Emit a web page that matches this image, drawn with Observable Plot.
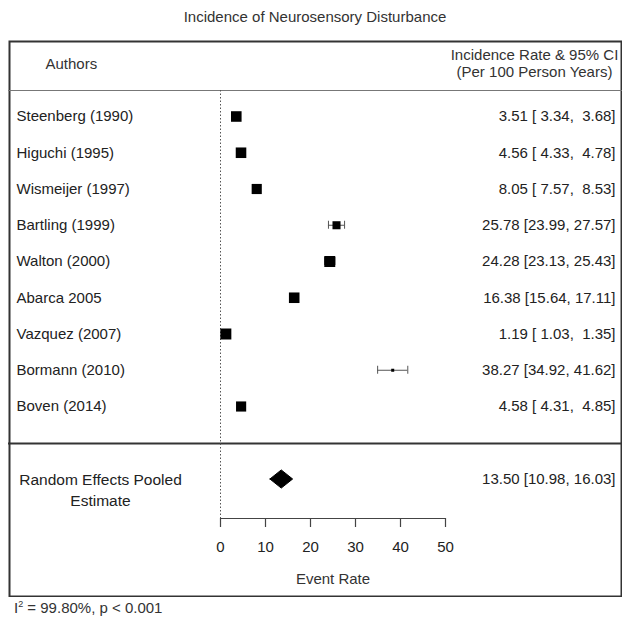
<!DOCTYPE html>
<html>
<head>
<meta charset="utf-8">
<script src="https://cdn.jsdelivr.net/npm/d3@7"></script>
<script src="https://cdn.jsdelivr.net/npm/@observablehq/plot@0.6"></script>
<style>
  body { margin: 0; background: white; font-family: "Liberation Sans", Arial, sans-serif; color: #333; }
  #title { position: absolute; left: 8px; width: 614px; top: 8px; text-align: center; font-size: 15px; line-height: 18px; }
  #chart { position: absolute; left: 8px; top: 40px; }
  #foot { position: absolute; left: 14px; top: 599px; font-size: 15px; line-height: 18px; }
  #foot sup { font-size: 9px; vertical-align: 6px; line-height: 0; }
  svg text { white-space: pre; }
</style>
</head>
<body>
<div id="title">Incidence of Neurosensory Disturbance</div>
<div id="chart"></div>
<div id="foot">I<sup>2</sup> = 99.80%, p &lt; 0.001</div>
<script>
// ---- data ----
const authors = ["Steenberg (1990)", "Higuchi (1995)", "Wismeijer (1997)", "Bartling (1999)", "Walton (2000)", "Abarca 2005", "Vazquez (2007)", "Bormann (2010)", "Boven (2014)"];
const estimates = [3.51, 4.56, 8.05, 25.78, 24.28, 16.38, 1.19, 38.27, 4.58];
const lower = [3.34, 4.33, 7.57, 23.99, 23.13, 15.64, 1.03, 34.92, 4.31];
const upper = [3.68, 4.78, 8.53, 27.57, 25.43, 17.11, 1.35, 41.62, 4.85];
const weights = [11.3, 11.3, 11.2, 10.7, 11.4, 11.3, 11.4, 9.5, 11.2];
const pooledLabel = "Random Effects Pooled\nEstimate";
const pooledEst = 13.50, pooledLo = 10.98, pooledHi = 16.03;
const xTicks = [0, 10, 20, 30, 40, 50];
const headerLeft = "Authors";
const headerRight = "Incidence Rate & 95% CI\n(Per 100 Person Years)";
const xLabel = "Event Rate";

// ---- build ----
const pad = v => v.toFixed(2).padStart(5, " ");
const ciText = (e, l, h) => `${e.toFixed(2)} [${pad(l)}, ${pad(h)}]`;
const studies = authors.map((a, i) => ({author: a, est: estimates[i], lo: lower[i], hi: upper[i], weight: weights[i], row: i, text: ciText(estimates[i], lower[i], upper[i])}));
const pooledRow = studies.length + 1;
const pooled = [{label: pooledLabel, est: pooledEst, lo: pooledLo, hi: pooledHi, row: pooledRow, text: ciText(pooledEst, pooledLo, pooledHi)}];
const caps = studies.flatMap(d => [{x: d.lo, row: d.row}, {x: d.hi, row: d.row}]);
const dh = 0.25;
const diamond = pooled.flatMap(d => [
  {x: d.lo, y: d.row}, {x: d.est, y: d.row - dh}, {x: d.hi, y: d.row}, {x: d.est, y: d.row + dh}, {x: d.lo, y: d.row}
]);

// layout (page pixel -> scale units)
const W = 614, H = 557;
const X = px => (px - 220) / 4.5;        // x=0 at page 220, 4.5px per unit
const Y = py => (py - 116) / 36.25;      // first row at page 116
const headerY = Y(90);
const sepY = Y(443);
const axisY = Y(518);

const chart = Plot.plot({
  width: W, height: H, margin: 0,
  x: {domain: [X(8), X(8 + W)], axis: null},
  y: {domain: [Y(40), Y(40 + H)], range: [0, H], axis: null},
  r: {type: "linear", domain: [9.5, 11.4], range: [1.7, 6.2]},
  style: {fontFamily: "'Liberation Sans', Arial, sans-serif", fontSize: "15px", color: "#333", background: "white"},
  marks: [
    Plot.frame({stroke: "#333", strokeWidth: 2, inset: 1}),
    Plot.ruleY([headerY], {stroke: "#777", strokeWidth: 1.2}),
    Plot.ruleY([sepY], {stroke: "#333", strokeWidth: 2}),
    Plot.ruleX([0], {y1: headerY, y2: axisY, stroke: "#555", strokeDasharray: "1.5,2"}),
    // CI whiskers
    Plot.ruleY(studies, {x1: "lo", x2: "hi", y: "row", stroke: "#555", strokeWidth: 1}),
    Plot.ruleX(caps, {x: "x", y1: d => d.row - 0.11, y2: d => d.row + 0.11, stroke: "#555", strokeWidth: 1}),
    Plot.dot(studies, {x: "est", y: "row", r: "weight", symbol: "square", fill: "black", stroke: null}),
    Plot.line(diamond, {x: "x", y: "y", fill: "black", stroke: "black", strokeWidth: 1}),
    // axis
    Plot.ruleY([axisY], {x1: xTicks[0], x2: xTicks[xTicks.length - 1], stroke: "#444", strokeWidth: 1.2}),
    Plot.ruleX(xTicks, {y1: axisY, y2: axisY + 9 / 36.25, stroke: "#444", strokeWidth: 1.2}),
    Plot.text(xTicks, {x: d => d, y: Y(547), text: d => String(d), fill: "#222"}),
    Plot.text([xLabel], {x: (xTicks[0] + xTicks[xTicks.length - 1]) / 2, y: Y(579), text: d => d, fill: "#333"}),
    // headers
    Plot.text([headerLeft], {x: X(45), y: Y(64), text: d => d, textAnchor: "start", fill: "#333"}),
    Plot.text([headerRight], {x: X(534), y: Y(62.5), text: d => d, textAnchor: "middle", lineHeight: 1.15, fill: "#333"}),
    // labels
    Plot.text(studies, {x: X(16), y: "row", text: "author", textAnchor: "start", fill: "#222"}),
    Plot.text(studies, {x: X(615), y: "row", text: "text", textAnchor: "end", fill: "#222"}),
    Plot.text(pooled, {x: X(100), y: "row", text: "label", textAnchor: "middle", lineHeight: 1.3, dy: 10, fontSize: 15.5, fill: "#222"}),
    Plot.text(pooled, {x: X(615), y: "row", text: "text", textAnchor: "end", fill: "#222"})
  ]
});
document.getElementById("chart").appendChild(chart);
</script>
</body>
</html>
